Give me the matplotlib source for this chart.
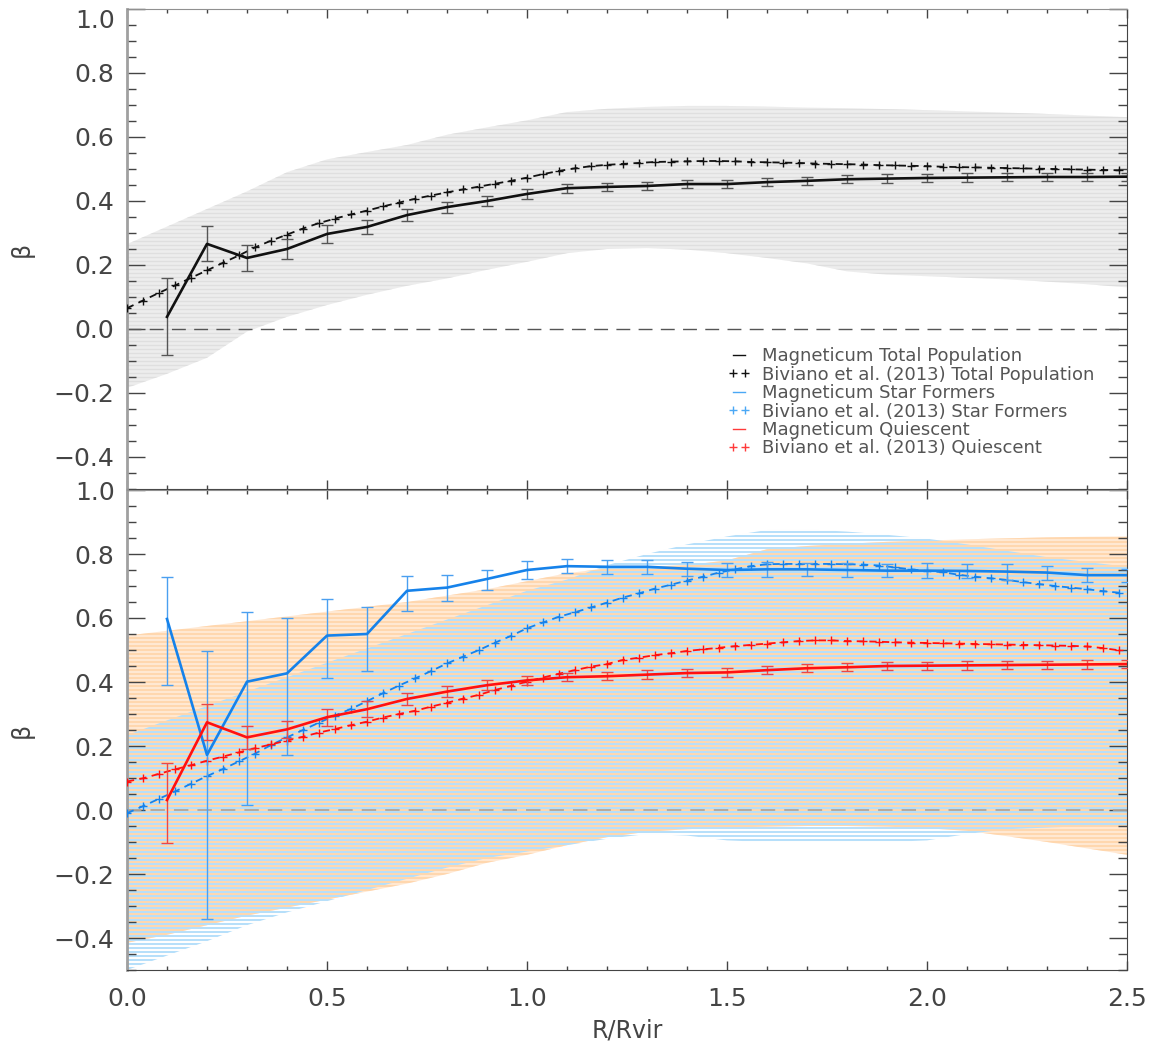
import numpy as np
import matplotlib
matplotlib.use("Agg")
import matplotlib.pyplot as plt
from matplotlib.lines import Line2D
from matplotlib.ticker import MultipleLocator

# Magneticum bins (R/Rvir)
r_sim = [0.1, 0.2, 0.3, 0.4, 0.5, 0.6, 0.7, 0.8, 0.9, 1.0, 1.1, 1.2, 1.3,
         1.4, 1.5, 1.6, 1.7, 1.8, 1.9, 2.0, 2.1, 2.2, 2.3, 2.4, 2.5]

beta_total = [0.038, 0.266, 0.222, 0.250, 0.297, 0.319, 0.356, 0.381, 0.400, 0.422,
              0.440, 0.444, 0.447, 0.453, 0.453, 0.459, 0.463, 0.468, 0.470, 0.472,
              0.473, 0.474, 0.475, 0.475, 0.476]
err_total = [0.120, 0.055, 0.041, 0.031, 0.027, 0.022, 0.019, 0.017, 0.016, 0.015,
             0.014, 0.013, 0.013, 0.013, 0.013, 0.013, 0.013, 0.013, 0.013, 0.013,
             0.013, 0.013, 0.013, 0.013, 0.013]

beta_sf = [0.597, 0.172, 0.401, 0.427, 0.545, 0.550, 0.685, 0.695, 0.722, 0.750,
           0.762, 0.760, 0.760, 0.754, 0.750, 0.752, 0.752, 0.750, 0.748, 0.748,
           0.747, 0.745, 0.742, 0.734, 0.734]
err_sf_lo = [0.207, 0.514, 0.385, 0.255, 0.134, 0.115, 0.063, 0.041, 0.034, 0.028,
             0.022, 0.022, 0.021, 0.022, 0.023, 0.024, 0.021, 0.022, 0.020, 0.023,
             0.022, 0.025, 0.022, 0.021, 0.020]
err_sf_hi = [0.130, 0.326, 0.219, 0.172, 0.114, 0.083, 0.047, 0.040, 0.029, 0.028,
             0.022, 0.022, 0.021, 0.022, 0.023, 0.024, 0.021, 0.022, 0.020, 0.023,
             0.022, 0.025, 0.022, 0.021, 0.020]

beta_q = [0.031, 0.274, 0.227, 0.252, 0.290, 0.315, 0.347, 0.370, 0.390, 0.405,
          0.415, 0.418, 0.423, 0.428, 0.430, 0.437, 0.443, 0.446, 0.450, 0.451,
          0.452, 0.453, 0.454, 0.455, 0.456]
err_q_lo = [0.134, 0.055, 0.037, 0.027, 0.026, 0.025, 0.018, 0.018, 0.016, 0.014,
            0.013, 0.013, 0.013, 0.013, 0.013, 0.013, 0.013, 0.013, 0.013, 0.013,
            0.013, 0.013, 0.013, 0.013, 0.013]
err_q_hi = [0.116, 0.056, 0.037, 0.027, 0.026, 0.025, 0.018, 0.018, 0.016, 0.014,
            0.013, 0.013, 0.013, 0.013, 0.013, 0.013, 0.013, 0.013, 0.013, 0.013,
            0.013, 0.013, 0.013, 0.013, 0.013]

# Biviano et al. (2013) profiles, sampled every 0.04 R/Rvir
r_obs = np.arange(63) * 0.04
biv_total = [0.065, 0.089, 0.113, 0.136, 0.160, 0.183, 0.207, 0.230, 0.255, 0.276,
             0.295, 0.314, 0.331, 0.345, 0.358, 0.370, 0.383, 0.395, 0.407, 0.417,
             0.427, 0.436, 0.445, 0.454, 0.463, 0.473, 0.484, 0.494, 0.502, 0.509,
             0.513, 0.516, 0.519, 0.522, 0.523, 0.524, 0.525, 0.525, 0.524, 0.522,
             0.521, 0.520, 0.519, 0.517, 0.516, 0.515, 0.514, 0.512, 0.511, 0.510,
             0.509, 0.507, 0.506, 0.505, 0.504, 0.503, 0.502, 0.501, 0.500, 0.499,
             0.498, 0.497, 0.496]
biv_sf = [-0.010, 0.012, 0.035, 0.058, 0.082, 0.106, 0.128, 0.152, 0.176, 0.203,
          0.227, 0.250, 0.273, 0.295, 0.316, 0.340, 0.365, 0.389, 0.411, 0.434,
          0.458, 0.479, 0.500, 0.523, 0.544, 0.568, 0.586, 0.604, 0.618, 0.633,
          0.648, 0.664, 0.677, 0.692, 0.704, 0.717, 0.729, 0.742, 0.752, 0.762,
          0.768, 0.769, 0.769, 0.769, 0.769, 0.768, 0.767, 0.764, 0.758, 0.752,
          0.747, 0.743, 0.735, 0.729, 0.724, 0.719, 0.712, 0.706, 0.700, 0.695,
          0.690, 0.684, 0.679]
biv_q = [0.089, 0.099, 0.113, 0.127, 0.140, 0.154, 0.167, 0.180, 0.193, 0.205,
         0.217, 0.229, 0.242, 0.253, 0.265, 0.276, 0.289, 0.300, 0.310, 0.323,
         0.335, 0.348, 0.360, 0.375, 0.388, 0.401, 0.414, 0.426, 0.437, 0.448,
         0.456, 0.469, 0.476, 0.484, 0.490, 0.497, 0.502, 0.507, 0.512, 0.516,
         0.520, 0.524, 0.528, 0.530, 0.530, 0.528, 0.527, 0.526, 0.524, 0.523,
         0.522, 0.521, 0.520, 0.519, 0.518, 0.517, 0.516, 0.515, 0.514, 0.513,
         0.511, 0.506, 0.499]

# scatter bands, sampled every 0.1 R/Rvir
r_band = np.arange(26) * 0.1
band_total_hi = [0.265, 0.320, 0.375, 0.430, 0.490, 0.530, 0.553, 0.575, 0.607, 0.630,
                 0.652, 0.678, 0.688, 0.694, 0.697, 0.697, 0.695, 0.692, 0.690, 0.687,
                 0.684, 0.680, 0.676, 0.672, 0.667, 0.662]
band_total_lo = [-0.184, -0.140, -0.090, -0.008, 0.038, 0.075, 0.107, 0.135, 0.158, 0.185,
                 0.210, 0.237, 0.250, 0.253, 0.248, 0.237, 0.222, 0.205, 0.180, 0.170,
                 0.165, 0.160, 0.155, 0.148, 0.140, 0.130]
band_q_hi = [0.545, 0.560, 0.575, 0.590, 0.605, 0.620, 0.635, 0.650, 0.670, 0.690,
             0.715, 0.740, 0.755, 0.760, 0.765, 0.780, 0.815, 0.825, 0.832, 0.838,
             0.842, 0.846, 0.849, 0.852, 0.854, 0.855]
band_q_lo = [-0.415, -0.390, -0.360, -0.330, -0.305, -0.280, -0.255, -0.230, -0.200, -0.165,
             -0.140, -0.110, -0.085, -0.068, -0.060, -0.055, -0.052, -0.050, -0.050, -0.052,
             -0.057, -0.065, -0.082, -0.100, -0.120, -0.140]
band_sf_hi = [0.234, 0.280, 0.325, 0.370, 0.415, 0.460, 0.505, 0.550, 0.595, 0.640,
              0.685, 0.720, 0.765, 0.800, 0.830, 0.855, 0.875, 0.877, 0.870, 0.860,
              0.848, 0.830, 0.810, 0.790, 0.775, 0.760]
band_sf_lo = [-0.500, -0.455, -0.410, -0.360, -0.320, -0.285, -0.250, -0.215, -0.180, -0.150,
              -0.130, -0.110, -0.090, -0.075, -0.080, -0.095, -0.100, -0.100, -0.100, -0.100,
              -0.095, -0.075, -0.060, -0.055, -0.050, -0.050]

labels = ["Magneticum Total Population", "Biviano et al. (2013) Total Population",
          "Magneticum Star Formers", "Biviano et al. (2013) Star Formers",
          "Magneticum Quiescent", "Biviano et al. (2013) Quiescent"]

BLACK = "#111111"
BLUE = "#1682ea"
RED = "#ff1010"
TXT = "#444444"


def striped_band(ax, x, lo, hi, line_color, face, offset, lw):
    poly = ax.fill_between(x, lo, hi, facecolor=face, edgecolor="none", zorder=1)
    levels = np.arange(-0.5 + offset, 1.0, 0.0125)
    stripes = ax.hlines(levels, 0, 2.5, colors=line_color, lw=lw, zorder=1.1)
    stripes.set_clip_path(poly.get_paths()[0], ax.transData)


def style_axes(ax):
    ax.set_xlim(0, 2.5)
    ax.set_ylim(-0.5, 1.0)
    ax.xaxis.set_major_locator(MultipleLocator(0.5))
    ax.xaxis.set_minor_locator(MultipleLocator(0.1))
    ax.yaxis.set_major_locator(MultipleLocator(0.2))
    ax.yaxis.set_minor_locator(MultipleLocator(0.05))
    ax.tick_params(which="both", direction="in", top=True, right=True, colors="#444444",
                   labelcolor=TXT, labelsize=18)
    ax.tick_params(axis="y", which="major", length=13, width=1, pad=9)
    ax.tick_params(axis="y", which="minor", length=6.5, width=1)
    ax.tick_params(axis="x", which="major", length=6.5, width=1, pad=12)
    ax.tick_params(axis="x", which="minor", length=3.2, width=1)
    ax.spines["left"].set_color("#a0a0a0")
    ax.spines["left"].set_linewidth(2)
    ax.spines["top"].set_color("#909090")
    for side in ["bottom", "right"]:
        ax.spines[side].set_color("#444444")
    ax.set_ylabel("β", fontsize=17, color=TXT)
    ax.yaxis.set_label_coords(-0.093, 0.5)


fig = plt.figure(figsize=(11.5, 10.47), dpi=100)
ax1 = fig.add_axes([127 / 1150, 1 - 489 / 1047, 1000 / 1150, 480 / 1047])
ax2 = fig.add_axes([127 / 1150, 1 - 970 / 1047, 1000 / 1150, 480 / 1047])

# top panel: total population
striped_band(ax1, r_band, band_total_lo, band_total_hi, "#dfdfdf", "#ededed", 0.0, 1.0)
ax1.axhline(0, color="#555555", lw=1, ls=(0, (10, 6)), zorder=2)
ax1.plot(r_obs, biv_total, color=BLACK, lw=1.3, ls=(0, (4, 3)), marker="+", ms=6, mew=1.0, zorder=3)
ax1.errorbar(r_sim, beta_total, yerr=err_total, color=BLACK, lw=1.9, ecolor="#555555",
             elinewidth=1, capsize=4, capthick=1, zorder=4)
style_axes(ax1)
ax1.tick_params(labelbottom=False)

# bottom panel: star formers and quiescent
striped_band(ax2, r_band, band_q_lo, band_q_hi, "#ffd2a4", "#ffe8d2", 0.0, 1.1)
striped_band(ax2, r_band, band_sf_lo, band_sf_hi, "#b6dffa", "none", 0.00625, 1.45)
ax2.axhline(0, color="#b5a595", lw=1.3, ls=(0, (8, 5)), zorder=2)
ax2.plot(r_obs, biv_sf, color=BLUE, lw=1.3, ls=(0, (4, 3)), marker="+", ms=6, mew=1.0, zorder=3)
ax2.plot(r_obs, biv_q, color=RED, lw=1.3, ls=(0, (4, 3)), marker="+", ms=6, mew=1.0, zorder=3)
ax2.errorbar(r_sim, beta_sf, yerr=[err_sf_lo, err_sf_hi], color=BLUE, lw=1.9, ecolor="#4a9ff0",
             elinewidth=1, capsize=4, capthick=1, zorder=4)
ax2.errorbar(r_sim, beta_q, yerr=[err_q_lo, err_q_hi], color=RED, lw=1.9, ecolor="#e84848",
             elinewidth=1, capsize=4, capthick=1, zorder=4)
style_axes(ax2)
ax2.set_xlabel("R/Rvir", fontsize=17, color=TXT, labelpad=6)

# the top "1.0" label sits just under the upper edge
for lab in ax1.get_yticklabels():
    if lab.get_text() == "1.0":
        lab.set_va("top")

handles = [
    Line2D([], [], color=BLACK, lw=1),
    Line2D([], [], color=BLACK, ls="none", marker="+", ms=6, mew=1),
    Line2D([], [], color="#4aa8f5", lw=1),
    Line2D([], [], color="#4aa8f5", ls="none", marker="+", ms=6, mew=1),
    Line2D([], [], color="#ff3a3a", lw=1),
    Line2D([], [], color="#ff3a3a", ls="none", marker="+", ms=6, mew=1),
]
leg = ax1.legend(handles, labels, loc="upper left", bbox_to_anchor=(0.593, 0.31),
                 frameon=False, fontsize=13, numpoints=2, handlelength=1.3,
                 handletextpad=0.6, labelspacing=0.02, borderaxespad=0)
for t in leg.get_texts():
    t.set_color("#555555")

fig.savefig("out.png", dpi=100)
